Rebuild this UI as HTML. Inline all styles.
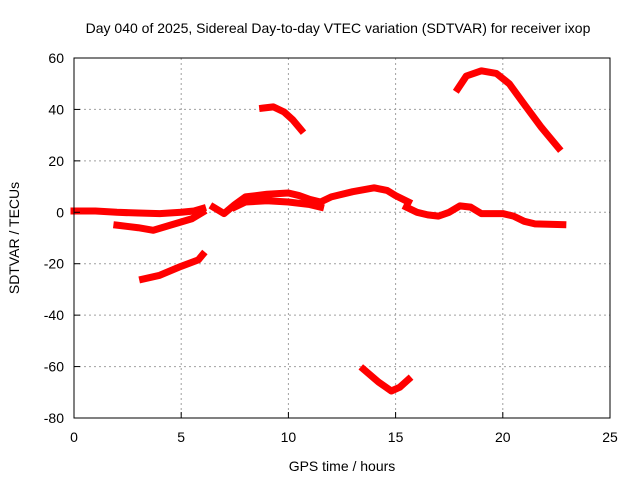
<!DOCTYPE html>
<html><head><meta charset="utf-8"><style>
body{margin:0;background:#fff;}
svg{display:block;font-family:"Liberation Sans",sans-serif;}
</style></head><body>
<svg id="c" width="640" height="480">
<text x="338" y="33" font-size="14" text-anchor="middle">Day 040 of 2025, Sidereal Day-to-day VTEC variation (SDTVAR) for receiver ixop</text>
<text x="342" y="471" font-size="14" text-anchor="middle">GPS time / hours</text>
<text transform="translate(19,238) rotate(-90)" font-size="14" text-anchor="middle">SDTVAR / TECUs</text>
<g id="grid"></g><g id="marks"></g><g id="axes"></g>
</svg>
<script>
const xTicks=[0,5,10,15,20,25];
const yTicks=[60,40,20,0,-20,-40,-60,-80];
const seriesA=[[0,0.5],[1,0.5],[2,0],[3,-0.3],[4,-0.5],[5,0],[5.6,0.5],[6,1.5]];
const seriesB=[[2,-5],[3,-6],[3.7,-7],[4.5,-5],[5.5,-2.5],[6,0]];
const seriesC=[[3.2,-26],[4,-24.5],[5,-21],[5.8,-18.5],[6,-16.5]];
const seriesD=[[8.8,40.5],[9.3,41],[9.8,39],[10.2,36],[10.6,32]];
const seriesE=[[6.5,2],[7,-0.5],[7.5,3],[8,6],[9,7],[10,7.5],[10.5,6.5],[11,5],[11.5,4],[12,6],[13,8],[14,9.5],[14.6,8.5],[15,6.5],[15.6,4]];
const seriesE2=[[7.5,2],[8,4],[9,4.5],[10,4],[11,3],[11.5,2]];
const seriesF=[[13.5,-61],[14.2,-66],[14.8,-69.5],[15.2,-68],[15.6,-65]];
const seriesG=[[15.5,2],[16,0],[16.5,-1],[17,-1.5],[17.5,0],[18,2.5],[18.5,2],[19,-0.5],[20,-0.5],[20.5,-1.5],[21,-3.5],[21.5,-4.5],[22.8,-4.8]];
const seriesH=[[17.9,48],[18.3,53],[19,55],[19.7,54],[20.3,50],[21,42],[21.8,33],[22.6,25]];
const allSeries=[seriesA,seriesB,seriesC,seriesD,seriesE,seriesE2,seriesF,seriesG,seriesH];
const X0=74,X1=610,Y0=58,Y1=418,xmin=0,xmax=25,ymin=-80,ymax=60;
const sx=t=>X0+(t-xmin)/(xmax-xmin)*(X1-X0);
const sy=v=>Y1-(v-ymin)/(ymax-ymin)*(Y1-Y0);
const NS="http://www.w3.org/2000/svg";
const grid=document.getElementById('grid'),marks=document.getElementById('marks'),axes=document.getElementById('axes');
function mk(tag,attrs,parent){const e=document.createElementNS(NS,tag);for(const k in attrs)e.setAttribute(k,attrs[k]);parent.appendChild(e);return e;}
xTicks.forEach(t=>{
  if(t>xmin&&t<xmax){const g=mk('line',{x1:sx(t),x2:sx(t),y1:Y0,y2:Y1,stroke:'#a0a0a0','stroke-dasharray':'2,3'},grid);
  
  }
  const tk=mk('line',{x1:sx(t),x2:sx(t),y1:Y1,y2:Y1-6,stroke:'#000'},axes);
  
  
  const l=mk('text',{x:sx(t),y:Y1+24,'font-size':14,'text-anchor':'middle'},axes);l.textContent=t;
  
  
});
yTicks.forEach(v=>{
  if(v>ymin&&v<ymax){const g=mk('line',{x1:X0,x2:X1,y1:sy(v),y2:sy(v),stroke:'#a0a0a0','stroke-dasharray':'2,3'},grid);
  
  }
  const tk=mk('line',{x1:X0,x2:X0+6,y1:sy(v),y2:sy(v),stroke:'#000'},axes);
  
  
  const l=mk('text',{x:X0-10,y:sy(v)+5,'font-size':14,'text-anchor':'end'},axes);l.textContent=v;
  
  
});
const fr=mk('rect',{x:X0,y:Y0,width:X1-X0,height:Y1-Y0,fill:'none',stroke:'#000'},axes);


allSeries.forEach((s,i)=>{
  const p=mk('polyline',{points:s.map(d=>sx(d[0])+','+sy(d[1])).join(' '),fill:'none',stroke:'#f00','stroke-width':7,'stroke-linejoin':'round','stroke-linecap':'square'},marks);
  
  
});
</script>
</body></html>
